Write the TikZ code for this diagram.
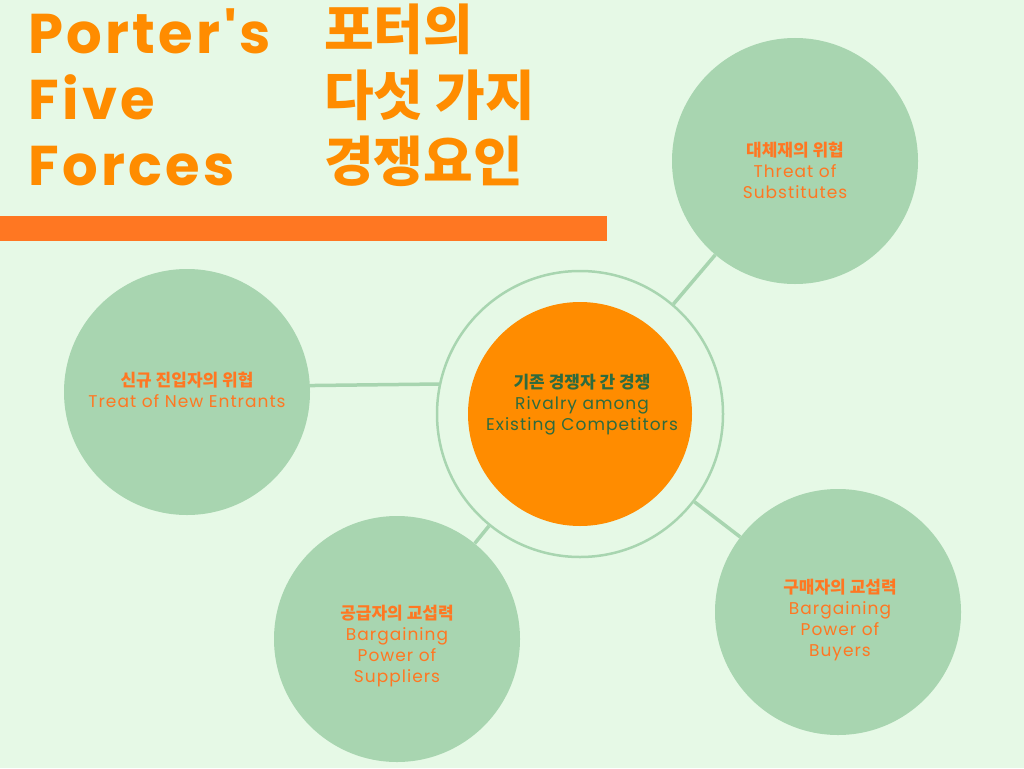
\documentclass[tikz,border=0pt]{standalone}
\usepackage{fontspec}
\setmainfont{Poppins}
\newfontfamily\kr{Noto Sans CJK KR}
\newfontfamily\spacedfont[LetterSpace=6]{Poppins}
\definecolor{bg}{HTML}{E6F9E6}
\definecolor{cg}{HTML}{A8D5B0}
\definecolor{og}{HTML}{FF8C00}
\definecolor{ot}{HTML}{FF7722}
\definecolor{dg}{HTML}{2E6B3E}
\begin{document}
\begin{tikzpicture}[x=1pt,y=-1pt,
  force/.style={circle,fill=cg,minimum size=246pt,inner sep=0pt},
  ftext/.style={text=ot,align=center,font=\spacedfont\fontsize{17}{21}\selectfont},
  link/.style={draw=cg,line width=3.5pt}]
\fill[bg] (0,0) rectangle (1024,768);
\useasboundingbox (0,0) rectangle (1024,768);
\fill[ot] (0,216) rectangle (607,241);
\node[anchor=north west,text=og,align=left,inner sep=0pt,font=\spacedfont\bfseries\fontsize{56}{66}\selectfont] (t1) at (28,8) {Porter\char"27 s\\Five\\Forces};
\node[anchor=north west,text=og,align=left,inner sep=0pt,font=\kr\bfseries\fontsize{54}{66}\selectfont] (t2) at (324,4) {포터의\\다섯 가지\\경쟁요인};
\node[force] (sub) at (795,161) {};
\node[force] (ent) at (187,392) {};
\node[force] (sup) at (397,639) {};
\node[force] (buy) at (838,612) {};
\node[circle,draw=cg,line width=2.5pt,fill=bg,minimum size=286pt] (ring) at (580,414) {};
\node[circle,fill=og,minimum size=224pt] (core) at (580,414) {};
\draw[link] (ring.168.7) -- (ent.3);
\draw[link] (ring) -- (sub);
\draw[link] (ring) -- (sup);
\draw[link] (ring) -- (buy);
\node[ftext] at (795,170) {{\kr\bfseries 대체재의 위협}\\Threat of\\Substitutes};
\node[ftext] at (187,390) {{\kr\bfseries 신규 진입자의 위협}\\Treat of New Entrants};
\node[ftext] at (397,646) {{\kr\bfseries 공급자의 교섭력}\\Bargaining\\Power of\\Suppliers};
\node[ftext] at (840,620) {{\kr\bfseries 구매자의 교섭력}\\Bargaining\\Power of\\Buyers};
\node[text=dg,align=center,font=\spacedfont\fontsize{17}{21}\selectfont] at (582,405) {{\kr\bfseries 기존 경쟁자 간 경쟁}\\Rivalry among\\Existing Competitors};
\end{tikzpicture}
\end{document}
